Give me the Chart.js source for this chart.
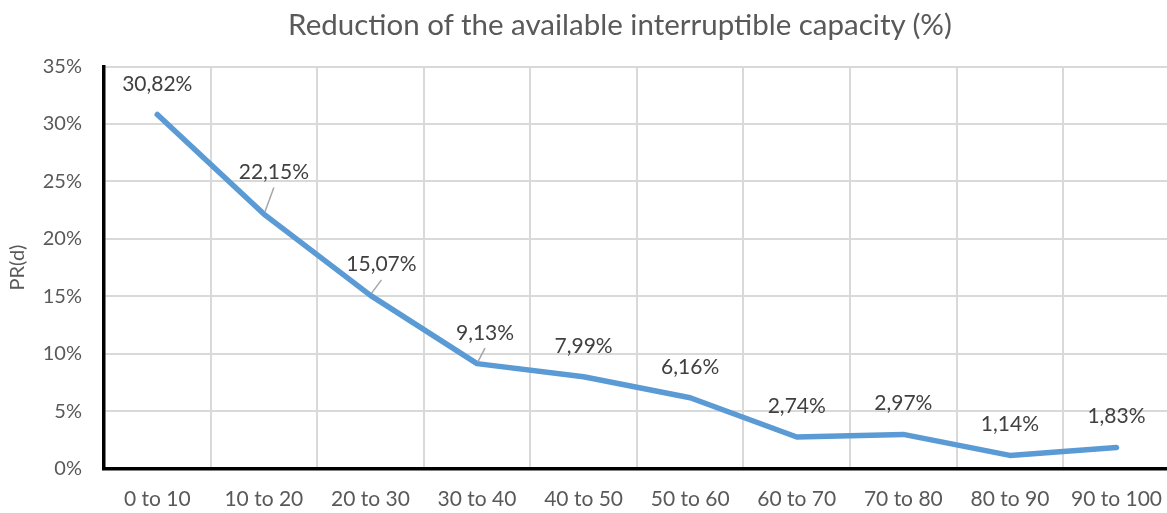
<!DOCTYPE html>
<html>
<head>
<meta charset="utf-8">
<script src="https://cdn.jsdelivr.net/npm/chart.js@4"></script>
<style>
  body { margin: 0; background: #fff; overflow: hidden; }
  #wrap { position: relative; width: 1167px; height: 513px; overflow: hidden; background: #fff; }
  #c { position: absolute; left: 0; top: 0; }
  #title {
    position: absolute; left: 0; top: 6px; width: 1240px;
    text-align: center; white-space: nowrap;
    font: 29.5px Lato, "Open Sans", sans-serif; color: #595959; line-height: 1.2;
  }
</style>
</head>
<body>
<div id="wrap">
  <canvas id="c" width="1180" height="513"></canvas>
  <div id="title">Reduction of the available interruptible capacity (%)</div>
</div>
<script>
// Depth bands and the PR(d) share of each band, in percent
const categories = ['0 to 10', '10 to 20', '20 to 30', '30 to 40', '40 to 50',
                    '50 to 60', '60 to 70', '70 to 80', '80 to 90', '90 to 100'];
const prValues = [30.82, 22.15, 15.07, 9.13, 7.99, 6.16, 2.74, 2.97, 1.14, 1.83];
const yTickValues = [0, 5, 10, 15, 20, 25, 30, 35];

const fmtPct = v => v.toFixed(2).replace('.', ',') + '%';

// Value labels above each point; a few are nudged aside and tied back with a leader line
const valueLabels = {
  id: 'valueLabels',
  afterDatasetsDraw(chart, args, opts) {
    const { ctx } = chart;
    const meta = chart.getDatasetMeta(0);
    ctx.save();
    ctx.font = opts.font;
    ctx.textAlign = 'center';
    ctx.textBaseline = 'alphabetic';
    meta.data.forEach((pt, i) => {
      const shift = opts.shifts[i] || [0, 0];
      const cx = pt.x + shift[0];
      const cy = pt.y + opts.rise + shift[1];
      if (shift[0] !== 0) {
        ctx.beginPath();
        ctx.strokeStyle = opts.leaderColor;
        ctx.lineWidth = 1.5;
        ctx.moveTo(pt.x + 1, pt.y - 2);
        ctx.lineTo(cx, cy + 16);
        ctx.stroke();
      }
      ctx.fillStyle = opts.color;
      ctx.fillText(fmtPct(chart.data.datasets[0].data[i]), cx, cy + 7.5);
    });
    ctx.restore();
  }
};

new Chart(document.getElementById('c'), {
  type: 'line',
  data: {
    labels: categories,
    datasets: [{
      data: prValues,
      borderColor: '#5B9BD5',
      borderWidth: 5.5,
      borderCapStyle: 'round',
      borderJoinStyle: 'round',
      pointRadius: 0,
      tension: 0,
      fill: false,
      clip: false
    }]
  },
  options: {
    responsive: false,
    animation: false,
    layout: { padding: { top: 66.5, left: 0, right: 0, bottom: 0 } },
    plugins: {
      legend: { display: false },
      tooltip: { enabled: false },
      title: { display: false },
      valueLabels: {
        font: '21px Lato, "Open Sans", sans-serif',
        color: '#404040',
        leaderColor: '#a6a6a6',
        rise: -31.5,
        shifts: [[0, 0], [10, -11], [11, 0], [8, 0]]
      }
    },
    scales: {
      x: {
        offset: true,
        grid: { offset: true, color: '#d9d9d9', lineWidth: 2, drawTicks: false },
        border: { color: '#000', width: 3.5 },
        ticks: { padding: 18, color: '#595959', font: { family: 'Lato', size: 21 }, maxRotation: 0 },
        afterFit: s => { s.height = 44.5; }
      },
      y: {
        min: 0,
        max: 35,
        afterBuildTicks: s => { s.ticks = yTickValues.map(v => ({ value: v })); },
        grid: { color: '#d9d9d9', lineWidth: 2, drawTicks: false },
        border: { color: '#000', width: 3.5 },
        ticks: { padding: 22, color: '#595959', font: { family: 'Lato', size: 20 }, callback: v => v + '%' },
        title: { display: true, text: 'PR(d)', color: '#595959', font: { family: 'Lato', size: 20 }, padding: { top: 6, bottom: 0 } },
        afterFit: s => { s.width = 104; }
      }
    }
  },
  plugins: [valueLabels]
});
</script>
</body>
</html>
